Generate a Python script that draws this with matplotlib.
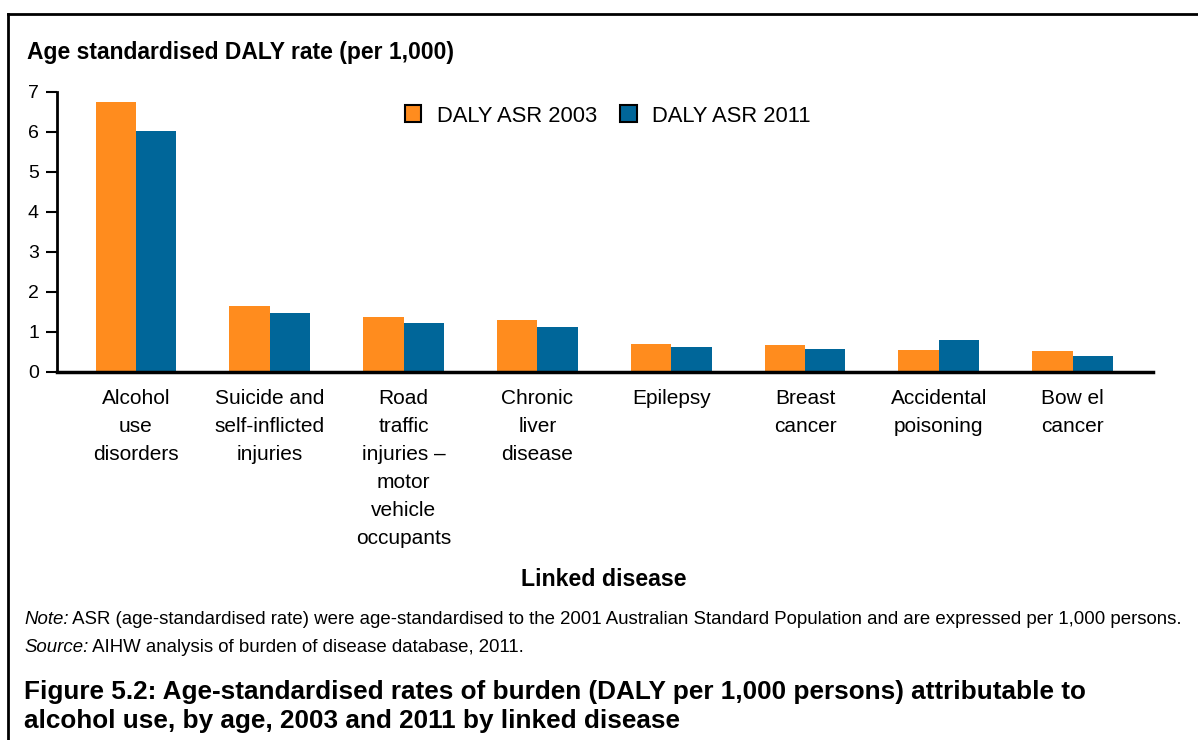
import matplotlib
matplotlib.use("Agg")
import matplotlib.pyplot as plt
import numpy as np
from matplotlib.patches import Patch
from matplotlib.lines import Line2D

plt.rcParams['font.family'] = ['Liberation Sans', 'DejaVu Sans']

categories = ["Alcohol\nuse\ndisorders", "Suicide and\nself-inflicted\ninjuries",
              "Road\ntraffic\ninjuries \u2013\nmotor\nvehicle\noccupants",
              "Chronic\nliver\ndisease", "Epilepsy", "Breast\ncancer",
              "Accidental\npoisoning", "Bow el\ncancer"]
daly_2003 = [6.75, 1.65, 1.38, 1.30, 0.70, 0.68, 0.55, 0.53]
daly_2011 = [6.03, 1.48, 1.23, 1.13, 0.62, 0.58, 0.80, 0.40]
series_names = ["DALY ASR 2003", "DALY ASR 2011"]
colors = ["#FF8C1E", "#006699"]

W, H = 1198, 740
fig = plt.figure(figsize=(W / 100, H / 100), dpi=100)

def fx(px):
    return px / W

def fy(py):
    return 1 - py / H

ax = fig.add_axes([fx(57), fy(372), fx(1153 - 57), (372 - 92) / H])

x = np.arange(len(categories))
w = 0.302
ax.bar(x - w / 2, daly_2003, width=w, color=colors[0], label=series_names[0])
ax.bar(x + w / 2, daly_2011, width=w, color=colors[1], label=series_names[1])

ax.set_xlim(-0.59, len(categories) - 1 + 0.6)
ax.set_ylim(0, 7)
ax.set_yticks(range(0, 8))
ax.set_xticks(x)
ax.set_xticklabels(categories, fontsize=15, linespacing=1.61, va='top')
ax.tick_params(axis='x', length=0, pad=12)
ax.tick_params(axis='y', length=8, width=1.5, labelsize=14, pad=5, direction='out')

for s in ['top', 'right']:
    ax.spines[s].set_visible(False)
ax.spines['left'].set_linewidth(2)
ax.spines['bottom'].set_linewidth(2.5)

# legend
handles = [Patch(facecolor=c, edgecolor='black', linewidth=1.5) for c in colors]
fig.legend(handles, series_names, loc='center left', bbox_to_anchor=(fx(405), fy(116)),
           ncol=2, frameon=False, fontsize=15.8, handlelength=0.75, handleheight=0.8,
           handletextpad=0.7, columnspacing=1.05, borderpad=0, borderaxespad=0)

fig.text(fx(27), fy(53), "Age standardised DALY rate (per 1,000)", fontsize=16.5,
         fontweight='bold', ha='left', va='center')
fig.text(fx(604), fy(580), "Linked disease", fontsize=16.7, fontweight='bold',
         ha='center', va='center')

note = fig.text(fx(24), fy(620), "Note:", fontsize=13.4, style='italic', ha='left', va='center')
ax.annotate(" ASR (age-standardised rate) were age-standardised to the 2001 Australian Standard "
            "Population and are expressed per 1,000 persons.", xy=(1, 0.5), xycoords=note,
            fontsize=13.4, ha='left', va='center')
src = fig.text(fx(24), fy(648), "Source:", fontsize=13.4, style='italic', ha='left', va='center')
ax.annotate(" AIHW analysis of burden of disease database, 2011.", xy=(1, 0.5), xycoords=src,
            fontsize=13.4, ha='left', va='center')

fig.text(fx(24), fy(692), "Figure 5.2: Age-standardised rates of burden (DALY per 1,000 persons) attributable to",
         fontsize=18.8, fontweight='bold', ha='left', va='center')
fig.text(fx(24), fy(721), "alcohol use, by age, 2003 and 2011 by linked disease",
         fontsize=18.8, fontweight='bold', ha='left', va='center')

# frame lines
fig.add_artist(Line2D([fx(8), fx(8)], [0, fy(14)], transform=fig.transFigure, color='black', lw=2))
fig.add_artist(Line2D([fx(8), 1], [fy(14), fy(14)], transform=fig.transFigure, color='black', lw=2))

fig.savefig("out.png", dpi=100)
